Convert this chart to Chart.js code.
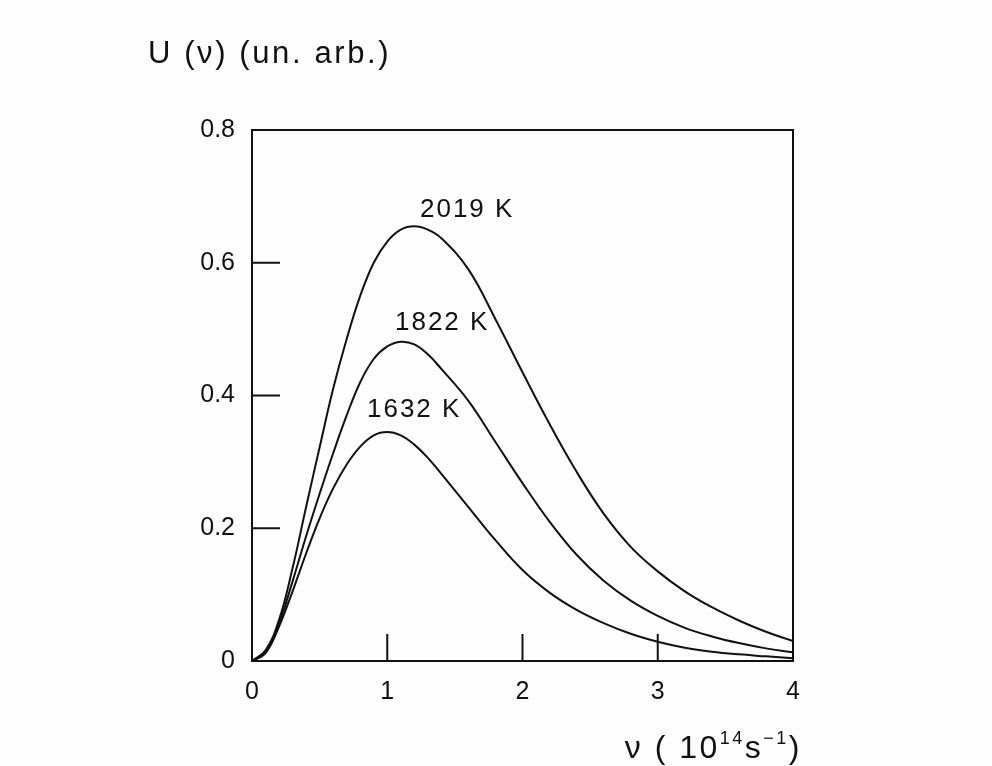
<!DOCTYPE html>
<html>
<head>
<meta charset="utf-8">
<script src="https://cdn.jsdelivr.net/npm/chart.js@4.4.1/dist/chart.umd.min.js"></script>
<style>
  html, body { margin: 0; padding: 0; background: #fdfdfd; }
  #wrap { width: 992px; height: 766px; }
</style>
</head>
<body>
<div id="wrap"><canvas id="chart" width="992" height="766"></canvas></div>
<script>
// frequency (10^14 s^-1)
const nu = [0, 0.1, 0.2, 0.3, 0.4, 0.5, 0.6, 0.7, 0.8, 0.9, 1.0, 1.1, 1.2, 1.3, 1.4,
            1.6, 1.8, 2.0, 2.2, 2.4, 2.6, 2.8, 3.0, 3.2, 3.4, 3.6, 3.8, 4.0];

// U(nu), arbitrary units
const u2019 = [0, 0.016, 0.062, 0.14, 0.232, 0.322, 0.41, 0.485, 0.55, 0.6, 0.632, 0.65, 0.655, 0.65, 0.637,
               0.59, 0.515, 0.435, 0.357, 0.285, 0.222, 0.172, 0.135, 0.105, 0.081, 0.061, 0.044, 0.03];
const u1822 = [0, 0.014, 0.057, 0.12, 0.188, 0.252, 0.313, 0.37, 0.42, 0.455, 0.474, 0.481, 0.477, 0.462, 0.44,
               0.392, 0.33, 0.268, 0.21, 0.16, 0.121, 0.091, 0.068, 0.05, 0.037, 0.027, 0.019, 0.013];
const u1632 = [0, 0.012, 0.052, 0.105, 0.162, 0.215, 0.26, 0.296, 0.323, 0.34, 0.345, 0.34, 0.326, 0.306, 0.282,
               0.232, 0.182, 0.137, 0.103, 0.077, 0.057, 0.041, 0.029, 0.02, 0.014, 0.01, 0.007, 0.004];

const curveNames = ['2019 K', '1822 K', '1632 K'];
// where the temperature labels sit (data coords, left / baseline)
const labelX = [1.242, 1.057, 0.85];
const labelY = [0.669, 0.499, 0.368];

// inner ticks
const xInnerTicks = [1, 2, 3];
const yInnerTicks = [0.2, 0.4, 0.6];

const FONT = '"Liberation Sans", Arial, sans-serif';

function toPoints(ys) {
    return nu.map((x, i) => ({ x: x, y: ys[i] }));
}

function lineSet(name, ys) {
    return {
        label: name,
        data: toPoints(ys),
        borderColor: '#111',
        borderWidth: 2,
        pointRadius: 0,
        fill: false,
        tension: 0.4
    };
}

// box, inner ticks, curve labels and axis titles
const decorations = {
    id: 'decorations',
    afterDatasetsDraw(chart) {
        const ctx = chart.ctx;
        const a = chart.chartArea;
        const xs = chart.scales.x;
        const ys = chart.scales.y;
        ctx.save();
        ctx.strokeStyle = '#111';
        ctx.lineWidth = 2;
        ctx.strokeRect(a.left, a.top, a.right - a.left, a.bottom - a.top);

        ctx.beginPath();
        yInnerTicks.forEach(v => {
            const py = ys.getPixelForValue(v);
            ctx.moveTo(a.left, py);
            ctx.lineTo(a.left + 28, py);
        });
        xInnerTicks.forEach(v => {
            const px = xs.getPixelForValue(v);
            ctx.moveTo(px, a.bottom);
            ctx.lineTo(px, a.bottom - 27);
        });
        ctx.stroke();

        ctx.fillStyle = '#111';
        ctx.textBaseline = 'alphabetic';
        ctx.textAlign = 'left';
        ctx.font = '26px ' + FONT;
        ctx.letterSpacing = '2px';
        curveNames.forEach((n, i) => {
            ctx.fillText(n, xs.getPixelForValue(labelX[i]), ys.getPixelForValue(labelY[i]));
        });

        // y title, top left
        ctx.font = '31px ' + FONT;
        ctx.letterSpacing = '2.6px';
        ctx.fillText('U (ν) (un. arb.)', 148, 63);

        // x title, right aligned under the axis
        const big = '32px ' + FONT;
        const small = '18px ' + FONT;
        const parts = [
            { t: 'ν ( 10', f: big, dy: 0 },
            { t: '14', f: small, dy: -14 },
            { t: 's', f: big, dy: 0 },
            { t: '−1', f: small, dy: -14 },
            { t: ')', f: big, dy: 0 }
        ];
        ctx.letterSpacing = '2.5px';
        let total = 0;
        parts.forEach(p => { ctx.font = p.f; p.w = ctx.measureText(p.t).width; total += p.w; });
        let x = 802 - total;
        parts.forEach(p => {
            ctx.font = p.f;
            ctx.fillText(p.t, x, 758 + p.dy);
            x += p.w;
        });
        ctx.letterSpacing = '0px';
        ctx.restore();
    }
};

const config = {
    type: 'line',
    data: {
        datasets: [lineSet(curveNames[0], u2019), lineSet(curveNames[1], u1822), lineSet(curveNames[2], u1632)]
    },
    options: {
        responsive: false,
        animation: false,
        layout: { padding: { top: 130, right: 199, left: 0, bottom: 0 } },
        plugins: { legend: { display: false }, tooltip: { enabled: false } },
        scales: {
            x: {
                type: 'linear',
                min: 0,
                max: 4,
                grid: { display: false, drawTicks: false },
                border: { display: false },
                ticks: { stepSize: 1, padding: 16, color: '#111', font: { family: FONT, size: 25 } },
                afterFit(scale) { scale.height = 105; }
            },
            y: {
                min: 0,
                max: 0.8,
                grid: { display: false, drawTicks: false },
                border: { display: false },
                ticks: {
                    stepSize: 0.2,
                    padding: 17,
                    color: '#111',
                    font: { family: FONT, size: 25 },
                    callback: v => (v === 0 ? '0' : v.toFixed(1))
                },
                afterFit(scale) { scale.width = 252; }
            }
        }
    },
    plugins: [decorations]
};

new Chart(document.getElementById('chart').getContext('2d'), config);
</script>
</body>
</html>
